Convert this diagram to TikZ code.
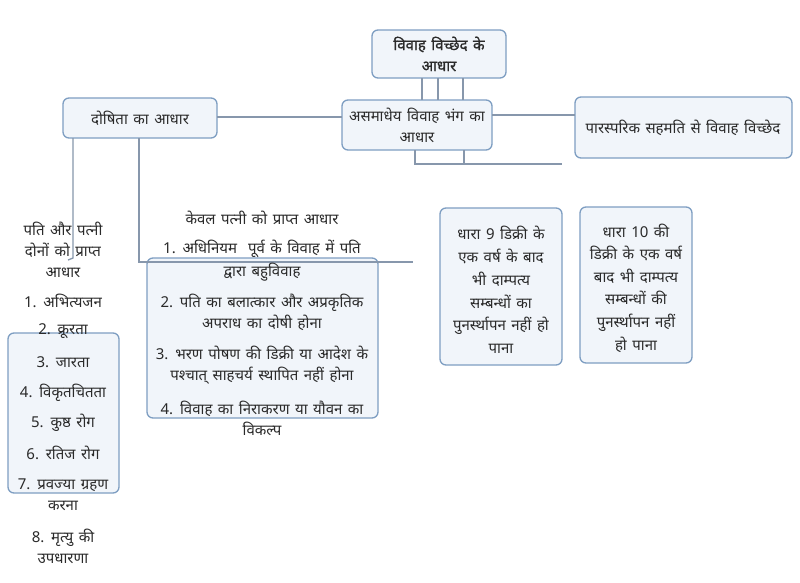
\documentclass[tikz,border=0pt]{standalone}
\usepackage{fontspec}
\setmainfont{Noto Sans}[Script=Devanagari]
\newfontfamily\hbold[Script=Devanagari,FakeBold=1.0]{Noto Sans}
\definecolor{boxline}{HTML}{7E9EC2}
\definecolor{boxfill}{HTML}{F1F5FA}
\definecolor{conn}{HTML}{8797AC}
\definecolor{txt}{HTML}{2A2A2A}
\newcommand{\hsz}{\fontsize{15}{21}\selectfont\spaceskip=5.5pt plus 1pt minus 1pt\relax}
\tikzset{
  bx/.style={draw=boxline, fill=boxfill, line width=1.3pt, rounded corners=6pt},
  cn/.style={draw=conn, line width=1.3pt},
  tx/.style={text=txt, font=\hsz, align=center, inner sep=0pt},
}
\begin{document}
\begin{tikzpicture}[x=1pt,y=-1pt]
\useasboundingbox[fill=white] (0,0) rectangle (800,582);
\coordinate (hookL) at (68,260);
\coordinate (hookR) at (413,262);
\coordinate (midEnd) at (562,164);
% boxes
\draw[bx] (372,30) rectangle (506,78);
\node (top) at (439,54) {};
\draw[bx] (342,100) rectangle (492,150);
\node (mid) at (417,125) {};
\draw[bx] (575,97) rectangle (792,158);
\node (right) at (683,128) {};
\draw[bx] (63,98) rectangle (217,138);
\node (dos) at (140,118) {};
\draw[bx] (8,333) rectangle (119,493);
\draw[bx] (147,258) rectangle (378,418);
\draw[bx] (440,208) rectangle (562,365);
\draw[bx] (580,207) rectangle (692,363);
% connections
\draw[cn] (422,78) -- (422,100);
\draw[cn] (438,78) -- (438,100);
\draw[cn] (463,78) -- (463,100);
\draw[cn] (217,117) -- (342,117);
\draw[cn] (492,115) -- (575,115);
\draw[cn] (415,150) -- (415,164) -- (midEnd);
\draw[cn] (464,150) -- (464,164);
\draw[cn] (73,138) -- (73,258) -- (hookL);
\draw[cn] (139,138) -- (139,262) -- (hookR);
% texts
\node[tx, font=\hsz\hbold] (ttop) at (439,54) {विवाह विच्छेद के\\आधार};
\node[tx] (tmid) at (417,125) {असमाधेय विवाह भंग का\\आधार};
\node[tx] (tright) at (683,128) {पारस्परिक सहमति से विवाह विच्छेद};
\node[tx] (tdos) at (140,118) {दोषिता का आधार};
% left group
\node[tx] (a0) at (63,250) {पति और पत्नी\\दोनों को प्राप्त\\आधार};
\node[tx] (a1) at (63,301) {1. अभित्यजन};
\node[tx] (a2) at (63,331) {2. क्रूरता};
\node[tx] (a3) at (63,362) {3. जारता};
\node[tx] (a4) at (63,393) {4. विकृतचितता};
\node[tx] (a5) at (63,423) {5. कुष्ठ रोग};
\node[tx] (a6) at (63,453) {6. रतिज रोग};
\node[tx] (a7) at (63,495) {7. प्रवज्या ग्रहण\\करना};
\node[tx] (a8) at (63,546) {8. मृत्यु की\\उपधारणा};
% middle group
\node[tx] (b0) at (262,218) {केवल पत्नी को प्राप्त आधार};
\node[tx, font=\hsz\fontsize{15}{23}\selectfont] (b1) at (262,261) {1. अधिनियम\ \ पूर्व के विवाह में पति\\द्वारा बहुविवाह};
\node[tx] (b2) at (262,312) {2. पति का बलात्कार और अप्रकृतिक\\अपराध का दोषी होना};
\node[tx] (b3) at (262,365) {3. भरण पोषण की डिक्री या आदेश के\\पश्चात् साहचर्य स्थापित नहीं होना};
\node[tx] (b4) at (262,418) {4. विवाह का निराकरण या यौवन का\\विकल्प};
% right boxes
\node[tx, font=\hsz\fontsize{15}{22.8}\selectfont] (c9) at (501,290) {धारा 9 डिक्री के\\एक वर्ष के बाद\\भी दाम्पत्य\\सम्बन्धों का\\पुनर्स्थापन नहीं हो\\पाना};
\node[tx, font=\hsz\fontsize{15}{22.6}\selectfont] (c10) at (636,288) {धारा 10 की\\डिक्री के एक वर्ष\\बाद भी दाम्पत्य\\सम्बन्धों की\\पुनर्स्थापन नहीं\\हो पाना};
\end{tikzpicture}
\end{document}
